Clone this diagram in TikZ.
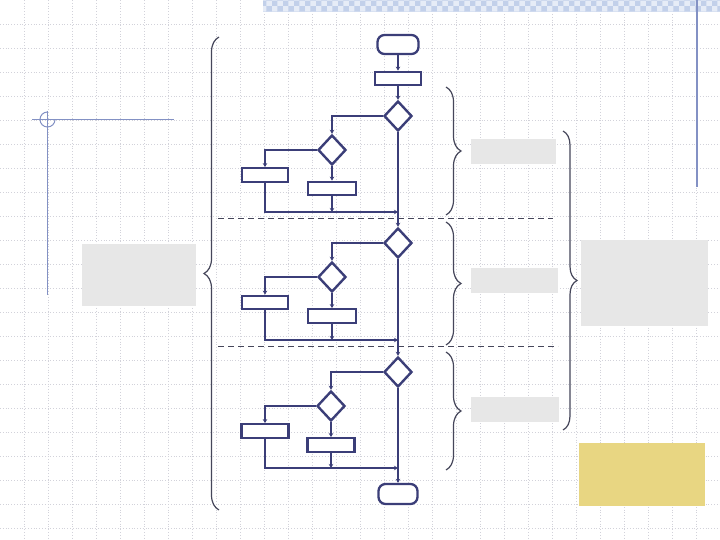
\documentclass[tikz,border=0pt]{standalone}
\usetikzlibrary{shapes.geometric,arrows.meta,decorations.pathreplacing,patterns}
\definecolor{flow}{HTML}{3B3E78}
\definecolor{gridc}{HTML}{D2D2DA}
\definecolor{bracec}{HTML}{45465A}
\definecolor{boxgray}{HTML}{E7E7E7}
\definecolor{ochre}{HTML}{E8D682}
\definecolor{decob}{HTML}{8391C4}
\definecolor{bandbg}{HTML}{E6ECF7}
\definecolor{bandfg}{HTML}{C2D0EA}
\tikzset{
  procbox/.style={draw=flow, line width=2.3pt, fill=white, rectangle, inner sep=0pt, minimum width=#1, minimum height=13.5pt},
  procbox/.default=46pt,
  decide/.style={draw=flow, line width=2.4pt, fill=white, diamond, inner sep=0pt, minimum width=28pt, minimum height=30pt},
  terminal/.style={draw=flow, line width=2.3pt, fill=white, rectangle, rounded corners=7pt, inner sep=0pt, minimum width=41pt, minimum height=19pt},
  flowline/.style={draw=flow, line width=2.3pt, -{Stealth[length=4pt,width=4.5pt]}},
  ghost/.style={fill=boxgray, draw=none, rectangle, inner sep=0pt},
  bracestyle/.style={draw=bracec, line width=1.2pt, decorate, decoration={brace, amplitude=#1}},
  sepline/.style={draw=bracec, line width=0.9pt, dash pattern=on 6pt off 4pt},
  decoline/.style={draw=decob, line width=1.3pt},
}
\begin{document}
\begin{tikzpicture}[x=1pt,y=-1pt]
\useasboundingbox (0,0) rectangle (720,540);
\fill[white] (0,0) rectangle (720,540);
% grid
\foreach \gx in {24,48,...,696} \draw[gridc, line width=0.8pt, dotted] (\gx,0) -- (\gx,540);
\foreach \gy in {24,48,...,528} \draw[gridc, line width=0.8pt, dotted] (0,\gy) -- (720,\gy);
% top band
\fill[bandbg] (263,0) rectangle (720,12);
\fill[pattern=checkerboard, pattern color=bandfg] (263,0) rectangle (720,12);
% decorative lines
\draw[decoline] (32,119.5) -- (174,119.5);
\draw[decoline] (47.5,111) -- (47.5,295);
\draw[decoline, line width=1pt] (47.5,112) arc[start angle=90, end angle=360, radius=7.5pt];
\draw[decoline] (697,0) -- (697,187);
% grey placeholder boxes
\node[ghost, minimum width=114pt, minimum height=62pt] (gleft) at (139,275) {};
\node[ghost, minimum width=85pt, minimum height=25pt] (g1) at (513.5,151.5) {};
\node[ghost, minimum width=87pt, minimum height=25pt] (g2) at (514.5,280.5) {};
\node[ghost, minimum width=88pt, minimum height=25pt] (g3) at (515,409.5) {};
\node[ghost, minimum width=127pt, minimum height=86pt] (gbig) at (644.5,283) {};
\node[fill=ochre, draw=none, rectangle, inner sep=0pt, minimum width=126pt, minimum height=63pt] (gyellow) at (642,474.5) {};
% separators
\draw[sepline] (218,218) -- (553,218);
\draw[sepline] (218,346) -- (558,346);
% braces
\draw[bracestyle=15pt] (219,510) -- (219,37);
\draw[bracestyle=15pt] (446,87) -- (446,215);
\draw[bracestyle=15pt] (446,222) -- (446,345);
\draw[bracestyle=15pt] (446,352) -- (446,470);
\draw[bracestyle=14pt] (563,131) -- (563,430);
% flowchart nodes
\node[terminal] (s) at (398,44.5) {};
\node[procbox] (p1) at (398,78.5) {};
\node[decide] (d1) at (398,116) {};
\node[decide] (d2) at (332,150) {};
\node[procbox] (a1) at (265,175) {};
\node[procbox=48pt] (b1) at (332,188.5) {};
\coordinate (j1) at (398,212);
\node[decide] (d3) at (398,243) {};
\node[decide] (d4) at (332,277) {};
\node[procbox] (a2) at (265,302.5) {};
\node[procbox=48pt] (b2) at (332,316) {};
\coordinate (j2) at (398,340);
\node[decide] (d5) at (398,372) {};
\node[decide] (d6) at (331,406) {};
\node[procbox=47pt] (a3) at (265,431) {};
\node[procbox=47pt] (b3) at (331,445) {};
\coordinate (j3) at (398,468);
\node[terminal, minimum width=39pt, minimum height=20pt] (e) at (398,494) {};
% connectors
\draw[flowline] (s) -- (p1);
\draw[flowline] (p1) -- (d1);
\draw[flowline] (d1.west) -| (d2.north);
\draw[flowline] (d2.west) -| (a1.north);
\draw[flowline] (d2.south) -- (b1.north);
\draw[flowline] (a1.south) |- (j1);
\draw[flowline] (b1.south) -- (b1.south |- j1);
\draw[flowline] (d1.south) -- (d3.north);
\draw[flowline] (d3.west) -| (d4.north);
\draw[flowline] (d4.west) -| (a2.north);
\draw[flowline] (d4.south) -- (b2.north);
\draw[flowline] (a2.south) |- (j2);
\draw[flowline] (b2.south) -- (b2.south |- j2);
\draw[flowline] (d3.south) -- (d5.north);
\draw[flowline] (d5.west) -| (d6.north);
\draw[flowline] (d6.west) -| (a3.north);
\draw[flowline] (d6.south) -- (b3.north);
\draw[flowline] (a3.south) |- (j3);
\draw[flowline] (b3.south) -- (b3.south |- j3);
\draw[flowline] (d5.south) -- (e.north);
\end{tikzpicture}
\end{document}
